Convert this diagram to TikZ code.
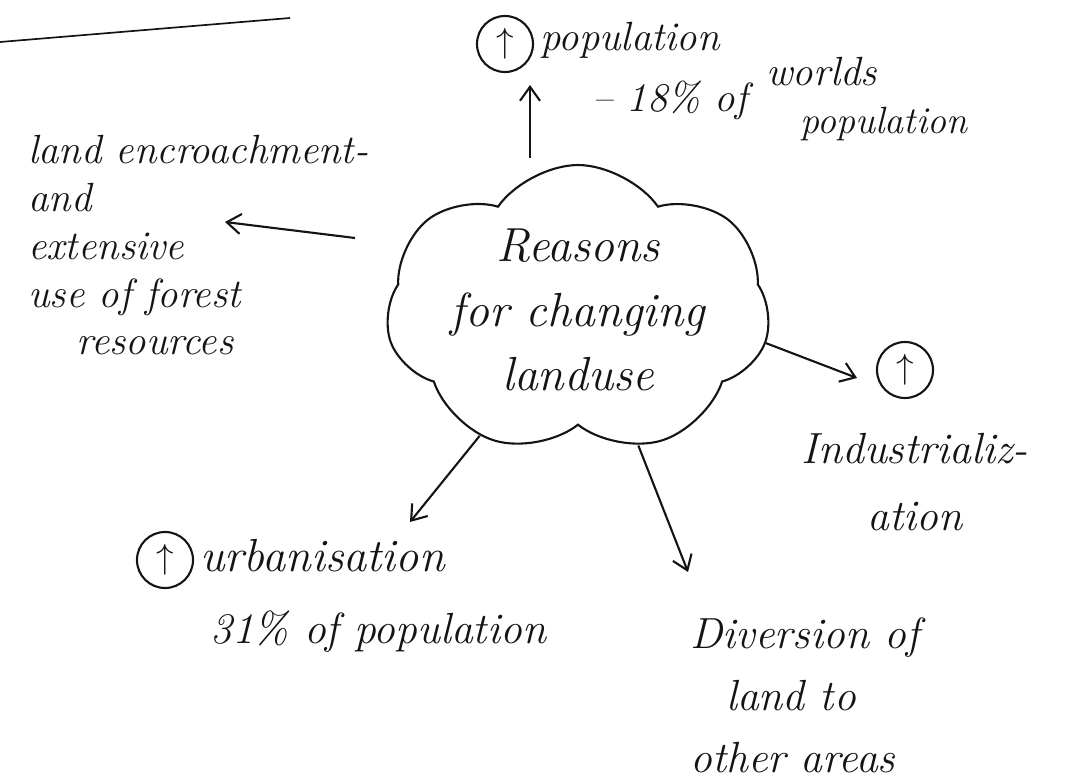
\documentclass[tikz,border=0pt]{standalone}
\usepackage{xcolor}
\usetikzlibrary{arrows.meta,shapes.symbols}
\definecolor{pen}{HTML}{141414}
\tikzset{
  hand/.style={font=\fontsize{29}{34}\selectfont\itshape,text=pen,inner sep=0pt},
  uptag/.style={draw=pen,circle,line width=1.5pt,minimum size=1.4cm,inner sep=0pt,
    font=\fontsize{28}{28}\selectfont,text=pen},
  link/.style={->,line width=1.5pt,draw=pen}
}
\begin{document}
\begin{tikzpicture}[x=0.025cm,y=-0.025cm,>={Straight Barb[length=3.5mm,width=5mm]}]
\useasboundingbox (0,0) rectangle (1067,780);
% ruled line of the page
\draw[line width=1.2pt,pen] (0,42)--(290,18);
\node[cloud,draw=pen,line width=1.5pt,cloud puffs=7,cloud puff arc=110,aspect=1.55,
  minimum width=9.6cm,minimum height=6.2cm,hand,font=\fontsize{34}{46}\selectfont\itshape,align=center]
  (cloud) at (578,310) {Reasons\\ for changing\\ landuse};
% top: population
\node[uptag] (upPop) at (505,44) {$\uparrow$};
\node[hand,anchor=west] (pop) at (540,40) {population};
\node[hand,anchor=west] (popShare) at (592,100) {-- 18\% of};
\node[hand,anchor=west] (popWorlds) at (766,72) {worlds};
\node[hand,anchor=west,font=\fontsize{27}{30}\selectfont\itshape] (popWorld) at (800,124) {population};
\coordinate (popTip) at (530,85);
\coordinate (popTail) at (530,158);
\draw[link] (popTail) -- (popTip);
% left: forests
\node[hand,anchor=north west,align=left] (forest) at (28,135)
  {land encroachment-\\ and\\ extensive\\ use of forest\\ \hspace*{1.2cm}resources};
\coordinate (forTail) at (355,238);
\coordinate (forTip) at (225,222);
\draw[link] (forTail) -- (forTip);
% right: industry
\node[uptag] (upInd) at (905,370) {$\uparrow$};
\node[hand,align=center,font=\fontsize{31}{48}\selectfont\itshape] (ind) at (915,482) {Industrializ-\\ ation};
\coordinate (indTip) at (857,378);
\draw[link] (cloud.-10) -- (indTip);
% lower left: towns
\node[uptag] (upUrb) at (165,560) {$\uparrow$};
\node[hand,anchor=west,font=\fontsize{33}{40}\selectfont\itshape] (urb) at (200,556) {urbanisation};
\node[hand,anchor=west,font=\fontsize{31}{40}\selectfont\itshape] (urbShare) at (210,632) {31\% of population};
\coordinate (urbTip) at (410,522);
\draw[link] (cloud.-128) -- (urbTip);
% bottom: diversion
\node[hand,anchor=north west,align=left,font=\fontsize{31}{44}\selectfont\itshape] (divert) at (690,618)
  {Diversion of\\ \hspace*{0.9cm}land to\\ other areas};
\coordinate (divTip) at (688,572);
\draw[link] (cloud.-66) -- (divTip);
\end{tikzpicture}
\end{document}
